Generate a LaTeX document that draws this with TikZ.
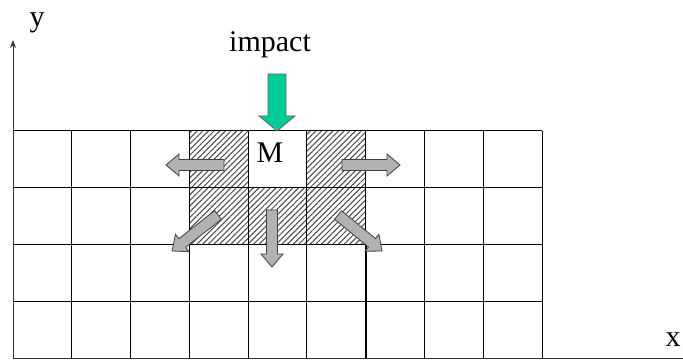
\documentclass[tikz,border=0pt]{standalone}
\usepackage{fontspec}
\setmainfont{Liberation Serif}
\usetikzlibrary{calc,patterns.meta,arrows.meta}
\definecolor{impactgreen}{RGB}{0,204,153}
\definecolor{arrgray}{RGB}{178,178,178}
\definecolor{hatchgray}{RGB}{70,70,70}
\tikzset{
  gridline/.style={line width=0.5pt,black},
  hatchcell/.style={pattern={Lines[angle=45,distance=2pt,line width=0.5pt]},pattern color=hatchgray},
  grayarrow/.style={fill=arrgray,draw=black!75,line width=0.4pt,line join=miter},
  greenarrow/.style={fill=impactgreen,draw=black!60,line width=0.4pt,line join=miter},
  axisline/.style={line width=0.5pt,black!80},
  lbl/.style={font=\fontsize{15}{18}\selectfont,inner sep=0pt}
}
\newcommand\fatarr[6]{% start, end, style, shaft half, head half, head length
  \coordinate (fa-h) at ($(#2)!#6!(#1)$);
  \draw[#3] ($(#1)!#4!90:(#2)$) -- ($(fa-h)!#4!90:(#2)$) -- ($(fa-h)!#5!90:(#2)$) -- (#2)
    -- ($(fa-h)!#5!-90:(#2)$) -- ($(fa-h)!#4!-90:(#2)$) -- ($(#1)!#4!-90:(#2)$) -- cycle;
}
\begin{document}
\begin{tikzpicture}[x=0.5pt,y=-0.5pt]
\useasboundingbox (0,0) rectangle (683,362);
% hatched cells
\fill[hatchcell] (189.4,131) rectangle (248.2,188);
\fill[hatchcell] (307,131) rectangle (365.8,188);
\fill[hatchcell] (189.4,188) rectangle (365.8,245);
% grid
\foreach \i in {0,...,9} {
  \draw[gridline] ({13+58.78*\i},131) -- ({13+58.78*\i},358);
}
\foreach \j in {131,188,245,302} {
  \draw[gridline] (13,\j) -- (542,\j);
}
\draw[line width=0.7pt] (189.4,245) -- (189.4,358);
\draw[line width=0.7pt] (365.8,245) -- (365.8,358);
% axes
\coordinate (origin) at (13,358);
\coordinate (ytip) at (13,40);
\coordinate (xend) at (683,358);
\draw[axisline,-{Stealth[length=4pt,width=3pt]}] (origin) -- (ytip);
\draw[axisline] (origin) -- (xend);
% labels
\node[lbl,anchor=base] (ylab) at (37,27) {y};
\node[lbl,anchor=base] (xlab) at (673,346) {x};
\node[lbl,anchor=base] (impact) at (270,52) {impact};
\node[lbl,anchor=base] (mlab) at (270,163) {M};
% impact arrow
\coordinate (g1) at (277,74);
\coordinate (g2) at (277,131);
\fatarr{g1}{g2}{greenarrow}{4.5pt}{9pt}{7.5pt}
% gray arrows
\coordinate (l1) at (224,165); \coordinate (l2) at (166,165);
\fatarr{l1}{l2}{grayarrow}{2.75pt}{5.5pt}{6.5pt}
\coordinate (r1) at (342,165); \coordinate (r2) at (400,165);
\fatarr{r1}{r2}{grayarrow}{2.75pt}{5.5pt}{6.5pt}
\coordinate (d1) at (272,210); \coordinate (d2) at (272,267);
\fatarr{d1}{d2}{grayarrow}{2.75pt}{5.5pt}{6.5pt}
\coordinate (dl1) at (218,215); \coordinate (dl2) at (172,251);
\fatarr{dl1}{dl2}{grayarrow}{2.75pt}{5.5pt}{6.5pt}
\coordinate (dr1) at (338,215); \coordinate (dr2) at (382,251);
\fatarr{dr1}{dr2}{grayarrow}{2.75pt}{5.5pt}{6.5pt}
\end{tikzpicture}
\end{document}
